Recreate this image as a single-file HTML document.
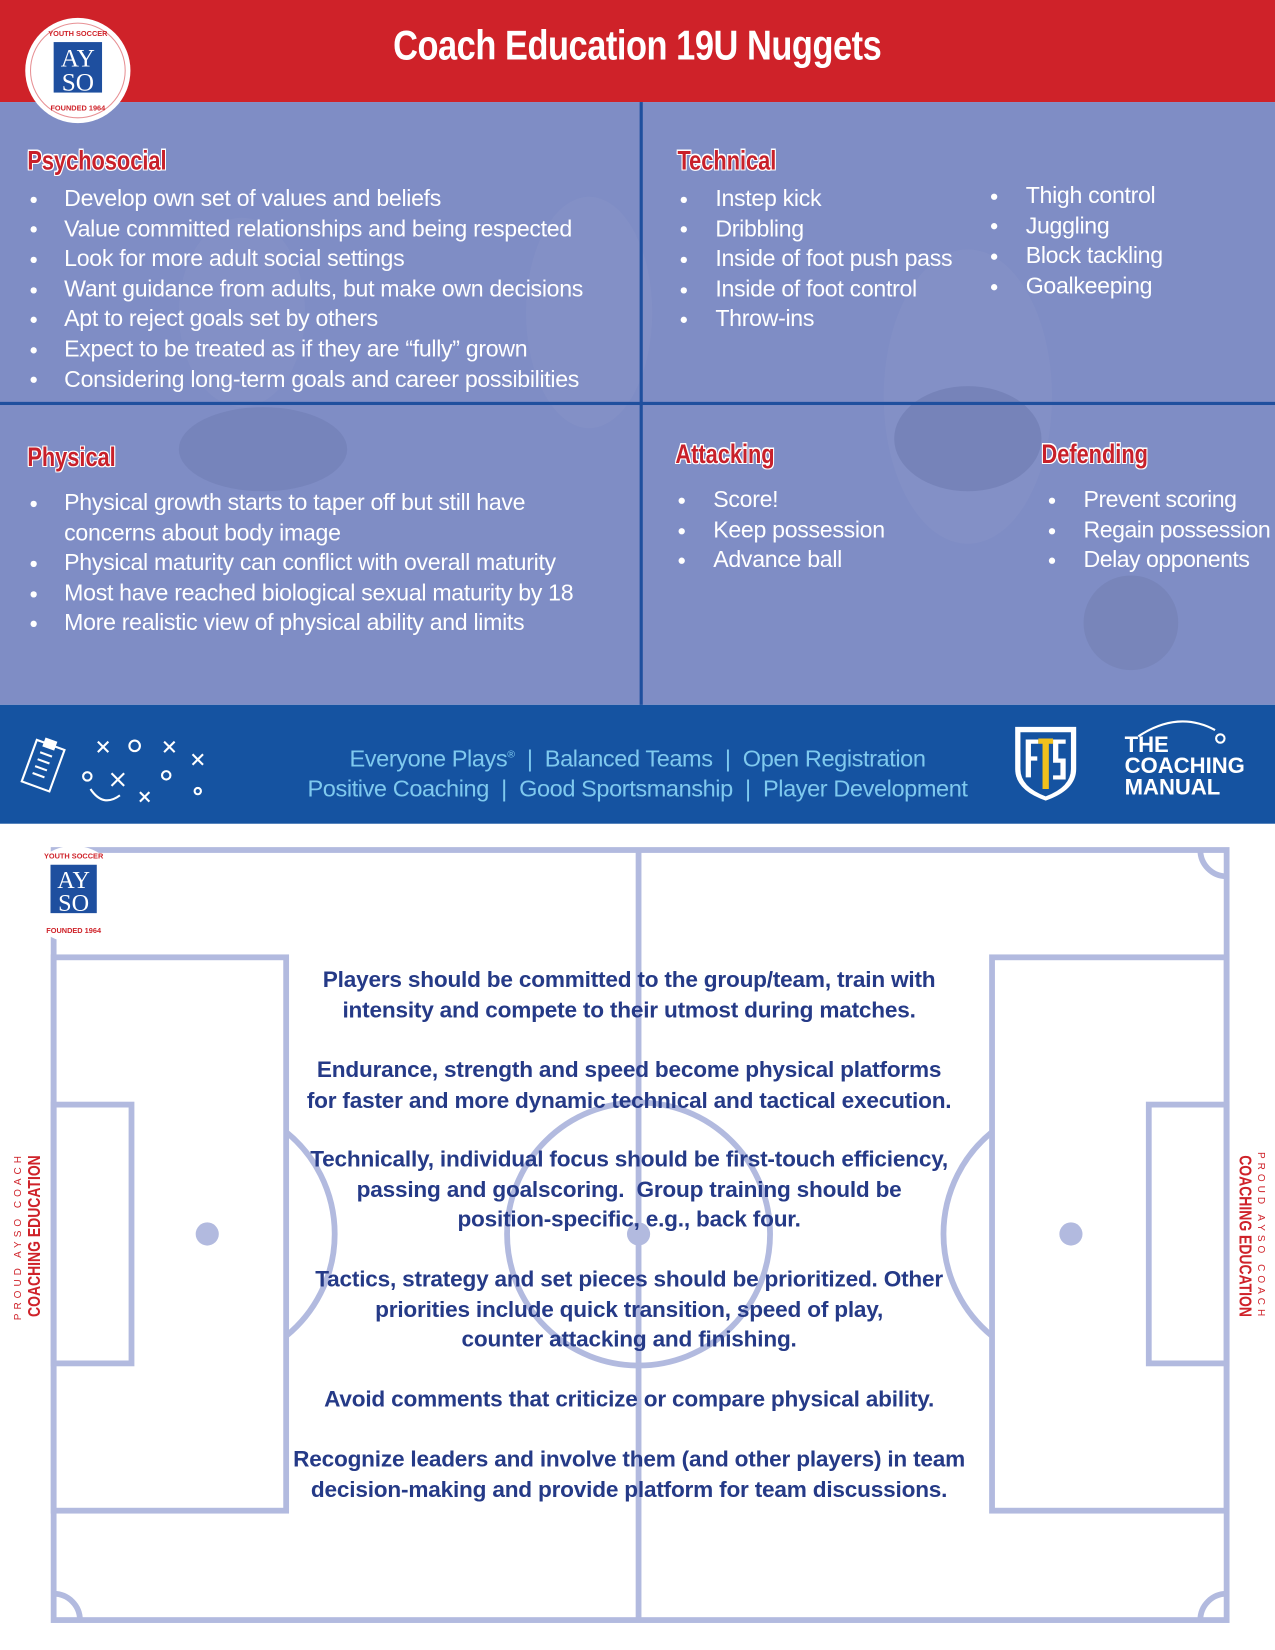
<!DOCTYPE html>
<html><head><meta charset="utf-8"><style>
html,body{margin:0;padding:0;}
body{width:1275px;height:1650px;overflow:hidden;background:#fff;position:relative;font-family:"Liberation Sans",sans-serif;}
#w{position:absolute;left:0;top:0;width:1212px;height:1568px;transform:scale(1.052);transform-origin:0 0;}
.a{position:absolute;white-space:nowrap;}
.h{font-weight:bold;color:#c8202a;font-size:23px;text-shadow:1px 0 #fff,-1px 0 #fff,0 1px #fff,0 -1px #fff,1px 1px #fff,-1px -1px #fff,1px -1px #fff,-1px 1px #fff;transform:scale(0.9,1.12);transform-origin:0 50%;}
.t{color:#fff;font-size:22px;line-height:28.6px;letter-spacing:-0.3px;}
.b{position:absolute;width:6px;height:6px;border-radius:50%;background:#fff;}
.c{position:absolute;left:0;width:1196px;text-align:center;color:#253a87;font-weight:bold;font-size:21.5px;line-height:28.6px;letter-spacing:-0.2px;white-space:nowrap;}
.side{position:absolute;width:200px;text-align:center;line-height:15px;white-space:nowrap;}
.side .p{color:#cf2229;font-size:9.5px;letter-spacing:3.8px;}
.side .q{font-weight:bold;color:#cf2229;font-size:17px;transform:scaleX(0.78);}
</style></head><body><div id="w">
<div class="a" style="left:0;top:0;width:1212px;height:97px;background:#cf2229;"></div>
<div class="a" style="left:0;top:97px;width:1212px;height:573px;background:#7f8dc5;"></div>
<svg class="a" style="left:0;top:97px" width="1212" height="573">
<ellipse cx="230" cy="200" rx="60" ry="90" fill="#8793c8" opacity=".5"/>
<ellipse cx="560" cy="200" rx="60" ry="110" fill="#8793c8" opacity=".5"/>
<ellipse cx="920" cy="280" rx="80" ry="140" fill="#8793c8" opacity=".5"/>
<ellipse cx="920" cy="320" rx="70" ry="50" fill="#6470a6" opacity=".4"/>
<ellipse cx="250" cy="330" rx="80" ry="40" fill="#6470a6" opacity=".3"/>
<circle cx="1075" cy="495" r="45" fill="#6d7aaa" opacity=".4"/>
</svg>
<div class="a" style="left:608px;top:97px;width:3px;height:573px;background:#1f4f9e;"></div>
<div class="a" style="left:0;top:382px;width:1212px;height:3px;background:#1f4f9e;"></div>
<div class="a" style="left:0;top:670px;width:1212px;height:113px;background:#1553a1;"></div>
<div class="a" style="left:0;top:22px;width:1212px;text-align:center;color:#fff;font-weight:bold;font-size:38px;transform:scale(0.86,1.05);transform-origin:604px 0;letter-spacing:-0.5px;">Coach Education 19U Nuggets</div>
<svg class="a" style="left:22px;top:15px" width="104" height="104"><circle cx="52" cy="52" r="50" fill="#fff"/><circle cx="52" cy="52" r="45" fill="none" stroke="#cf2229" stroke-width="1" opacity=".5"/><rect x="29" y="25" width="46" height="48" fill="#1e4f9f"/><text x="52" y="48" text-anchor="middle" font-family="Liberation Serif" font-size="24" fill="#fff">AY</text><text x="52" y="71" text-anchor="middle" font-family="Liberation Serif" font-size="24" fill="#fff">SO</text><text x="52" y="90" text-anchor="middle" font-size="7" font-weight="bold" fill="#cf2229">FOUNDED 1964</text><text x="52" y="19" text-anchor="middle" font-size="7" font-weight="bold" fill="#cf2229">YOUTH SOCCER</text></svg>

<div class="a h" style="left:26px;top:139px;">Psychosocial</div>
<div class="a h" style="left:644px;top:139px;">Technical</div>
<div class="a h" style="left:26px;top:421px;">Physical</div>
<div class="a h" style="left:642px;top:418px;">Attacking</div>
<div class="a h" style="left:990px;top:418px;">Defending</div>

<div class="a t" style="left:61px;top:175px;">Develop own set of values and beliefs<br>Value committed relationships and being respected<br>Look for more adult social settings<br>Want guidance from adults, but make own decisions<br>Apt to reject goals set by others<br>Expect to be treated as if they are “fully” grown<br>Considering long-term goals and career possibilities</div>
<div class="b" style="left:29px;top:187px"></div><div class="b" style="left:29px;top:215px"></div><div class="b" style="left:29px;top:244px"></div><div class="b" style="left:29px;top:273px"></div><div class="b" style="left:29px;top:301px"></div><div class="b" style="left:29px;top:330px"></div><div class="b" style="left:29px;top:358px"></div>

<div class="a t" style="left:680px;top:175px;">Instep kick<br>Dribbling<br>Inside of foot push pass<br>Inside of foot control<br>Throw-ins</div>
<div class="b" style="left:647px;top:187px"></div><div class="b" style="left:647px;top:215px"></div><div class="b" style="left:647px;top:244px"></div><div class="b" style="left:647px;top:273px"></div><div class="b" style="left:647px;top:301px"></div>
<div class="a t" style="left:975px;top:172px;">Thigh control<br>Juggling<br>Block tackling<br>Goalkeeping</div>
<div class="b" style="left:942px;top:184px"></div><div class="b" style="left:942px;top:212px"></div><div class="b" style="left:942px;top:241px"></div><div class="b" style="left:942px;top:270px"></div>

<div class="a t" style="left:61px;top:464px;">Physical growth starts to taper off but still have<br>concerns about body image<br>Physical maturity can conflict with overall maturity<br>Most have reached biological sexual maturity by 18<br>More realistic view of physical ability and limits</div>
<div class="b" style="left:29px;top:476px"></div><div class="b" style="left:29px;top:533px"></div><div class="b" style="left:29px;top:562px"></div><div class="b" style="left:29px;top:590px"></div>

<div class="a t" style="left:678px;top:461px;">Score!<br>Keep possession<br>Advance ball</div>
<div class="b" style="left:645px;top:473px"></div><div class="b" style="left:645px;top:502px"></div><div class="b" style="left:645px;top:530px"></div>
<div class="a t" style="left:1030px;top:461px;letter-spacing:-0.5px;">Prevent scoring<br>Regain possession<br>Delay opponents</div>
<div class="b" style="left:997px;top:473px"></div><div class="b" style="left:997px;top:502px"></div><div class="b" style="left:997px;top:530px"></div>

<div class="a" style="left:156px;top:703px;width:900px;text-align:center;color:#7fc9ee;font-size:22.4px;line-height:29px;letter-spacing:-0.4px;">Everyone Plays<sup style="font-size:10px">®</sup> &nbsp;| &nbsp;Balanced Teams &nbsp;| &nbsp;Open Registration<br>Positive Coaching &nbsp;| &nbsp;Good Sportsmanship &nbsp;| &nbsp;Player Development</div>
<svg class="a" style="left:18px;top:695px" width="180" height="75" fill="none" stroke="#fff" stroke-width="2"><rect x="10" y="12" width="28" height="42" transform="rotate(20 24 30)"/><rect x="18" y="8" width="10" height="7" fill="#fff" transform="rotate(20 24 30)"/><path d="M17 22h12M17 29h12M17 36h12M17 43h12" transform="rotate(20 24 30)"/><path d="M75 10l10 10M85 10l-10 10M138 10l10 10M148 10l-10 10M165 22l10 10M175 22l-10 10M88 40l12 12M100 40l-12 12M115 58l9 9M124 58l-9 9"/><circle cx="110" cy="14" r="5"/><circle cx="65" cy="43" r="4"/><circle cx="140" cy="42" r="4"/><circle cx="170" cy="57" r="3"/><path d="M68 55q12 18 28 6"/></svg>
<svg class="a" style="left:962px;top:688px" width="64" height="76"><path d="M3 3h58v40q0 20-29 30Q3 63 3 43z" fill="#fff"/><path d="M8 8h48v35q0 17-24 26Q8 60 8 43z" fill="#1553a1"/><path d="M13 15h12v4h-7v12h6v4h-6v16h-5zM39 15h12v4h-7v14h7v20h-12v-4h7v-12h-7z" fill="#fff"/><rect x="25" y="14" width="14" height="5" fill="#f2c11c"/><rect x="29" y="14" width="6" height="48" fill="#f2c11c"/></svg>
<div class="a" style="left:1069px;top:699px;color:#fff;font-weight:bold;font-size:21px;line-height:20px;">THE<br>COACHING<br>MANUAL</div>
<svg class="a" style="left:1060px;top:680px" width="110" height="30" fill="none" stroke="#fff" stroke-width="2"><path d="M22 20Q60 -5 95 14"/><circle cx="100" cy="22" r="4"/></svg>

<svg class="a" style="left:0;top:783px" width="1212" height="785" fill="none" stroke="#b2badf" stroke-width="5.5">
<rect x="51" y="25" width="1115" height="732"/>
<line x1="607" y1="25" x2="607" y2="757"/>
<circle cx="607" cy="390" r="125"/>
<rect x="51" y="127" width="221" height="526"/>
<rect x="51" y="267" width="74" height="246"/>
<path d="M272 293A125 125 0 0 1 272 487"/>
<rect x="943" y="127" width="223" height="526"/>
<rect x="1092" y="267" width="74" height="246"/>
<path d="M943 293A125 125 0 0 0 943 487"/>
<path d="M1141 25A25 25 0 0 0 1166 50M51 732A25 25 0 0 1 76 757M1166 732A25 25 0 0 0 1141 757"/>
<g fill="#b2badf" stroke="none"><circle cx="607" cy="390" r="11"/><circle cx="197" cy="390" r="11"/><circle cx="1018" cy="390" r="11"/></g>
</svg>
<svg class="a" style="left:23px;top:803px" width="94" height="94"><circle cx="47" cy="47" r="46" fill="#fff"/><rect x="25" y="19" width="44" height="46" fill="#1e4f9f"/><text x="47" y="41" text-anchor="middle" font-family="Liberation Serif" font-size="23" fill="#fff">AY</text><text x="47" y="63" text-anchor="middle" font-family="Liberation Serif" font-size="23" fill="#fff">SO</text><text x="47" y="84" text-anchor="middle" font-size="7" font-weight="bold" fill="#cf2229">FOUNDED 1964</text><text x="47" y="13" text-anchor="middle" font-size="7" font-weight="bold" fill="#cf2229">YOUTH SOCCER</text></svg>

<div class="c" style="top:917px">Players should be committed to the group/team, train with<br>intensity and compete to their utmost during matches.</div>
<div class="c" style="top:1003px">Endurance, strength and speed become physical platforms<br>for faster and more dynamic technical and tactical execution.</div>
<div class="c" style="top:1088px">Technically, individual focus should be first-touch efficiency,<br>passing and goalscoring.&nbsp; Group training should be<br>position-specific, e.g., back four.</div>
<div class="c" style="top:1202px">Tactics, strategy and set pieces should be prioritized. Other<br>priorities include quick transition, speed of play,<br>counter attacking and finishing.</div>
<div class="c" style="top:1316px">Avoid comments that criticize or compare physical ability.</div>
<div class="c" style="top:1373px">Recognize leaders and involve them (and other players) in team<br>decision-making and provide platform for team discussions.</div>

<div class="side" style="left:-75px;top:1160px;transform:rotate(-90deg);">
<div class="p">PROUD AYSO COACH</div><div class="q">COACHING EDUCATION</div></div>
<div class="side" style="left:1091px;top:1160px;transform:rotate(90deg);">
<div class="p">PROUD AYSO COACH</div><div class="q">COACHING EDUCATION</div></div>
</div></body></html>
